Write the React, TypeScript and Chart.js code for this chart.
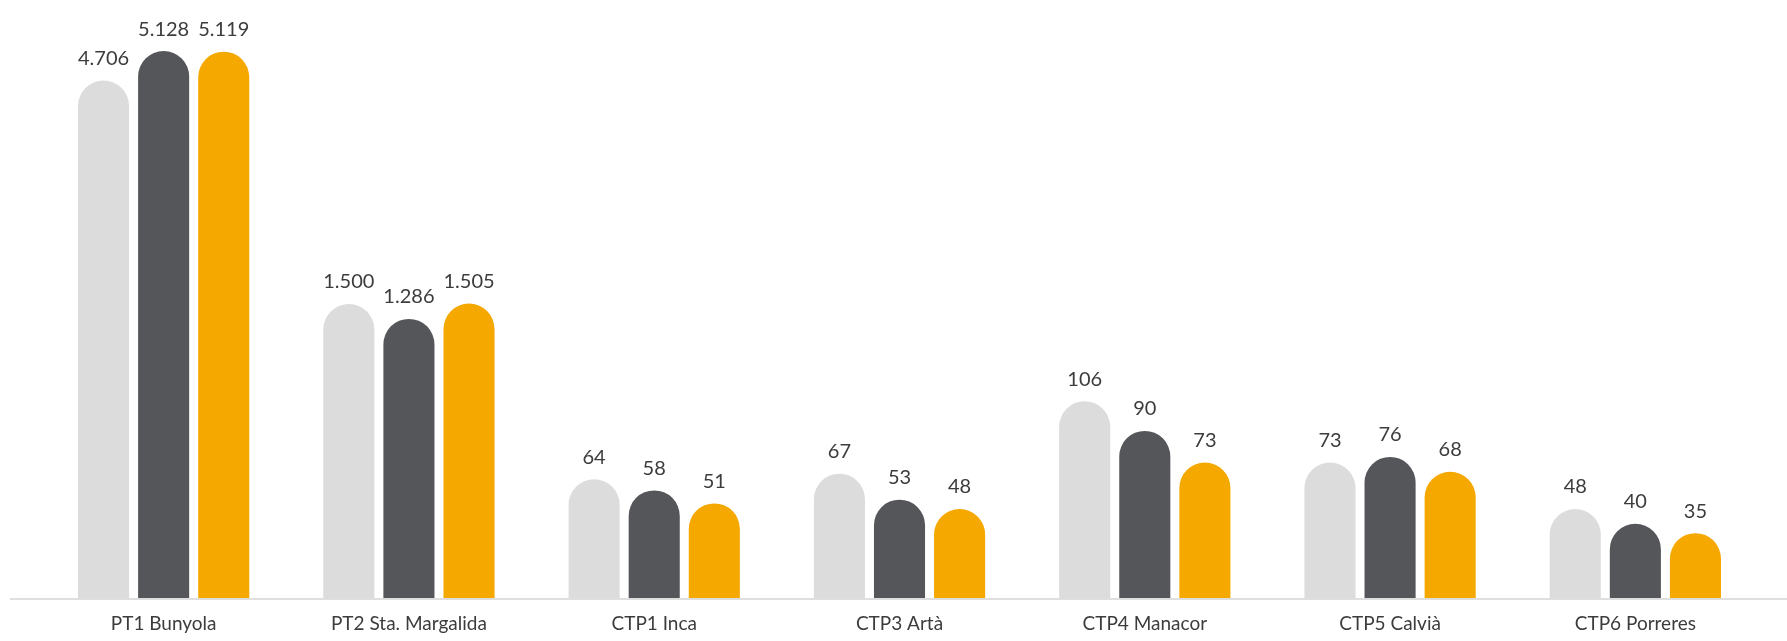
import React, { useEffect, useRef } from "react";
import { Chart, registerables, LinearScale } from "chart.js";

Chart.register(...registerables);

const categories = [
  "PT1 Bunyola",
  "PT2 Sta. Margalida",
  "CTP1 Inca",
  "CTP3 Artà",
  "CTP4 Manacor",
  "CTP5 Calvià",
  "CTP6 Porreres",
];
const seriesA = [4706, 1500, 64, 67, 106, 73, 48];
const seriesB = [5128, 1286, 58, 53, 90, 76, 40];
const seriesC = [5119, 1505, 51, 48, 73, 68, 35];
const seriesNames = ["Serie 1", "Serie 2", "Serie 3"];
const colors = ["#DCDCDC", "#55565A", "#F5A800"];

// broken value axis: linear up to BREAK, compressed above it
const BREAK = 106;
const RATIO = 0.0375;
const tf = (v: number) => (v <= BREAK ? v : BREAK + (v - BREAK) * RATIO);
const inv = (t: number) => (t <= BREAK ? t : BREAK + (t - BREAK) / RATIO);

class BrokenScale extends LinearScale {
  static id = "broken";
  static defaults = (LinearScale as any).defaults;
  getPixelForValue(value: number) {
    const a = tf((this as any).min);
    const b = tf((this as any).max);
    return this.getPixelForDecimal((tf(value) - a) / (b - a));
  }
  getValueForPixel(pixel: number) {
    const a = tf((this as any).min);
    const b = tf((this as any).max);
    return inv(a + this.getDecimalForPixel(pixel) * (b - a));
  }
}
Chart.register(BrokenScale as any);

const fmt = (v: number) => String(v).replace(/\B(?=(\d{3})+(?!\d))/g, ".");

const labelPlugin = {
  id: "valueLabels",
  afterDatasetsDraw(chart: any) {
    const ctx = chart.ctx;
    ctx.save();
    ctx.font = "20px Lato";
    ctx.fillStyle = "#3c3c3c";
    ctx.textAlign = "center";
    ctx.textBaseline = "middle";
    chart.data.datasets.forEach((ds: any, i: number) => {
      const meta = chart.getDatasetMeta(i);
      meta.data.forEach((el: any, j: number) => {
        ctx.fillText(fmt(ds.data[j]), el.x, el.y - 22);
      });
    });
    ctx.restore();
  },
};

const baselinePlugin = {
  id: "baseline",
  afterDatasetsDraw(chart: any) {
    const ctx = chart.ctx;
    const y = chart.scales.y.getPixelForValue(0);
    ctx.save();
    ctx.strokeStyle = "#d4d4d4";
    ctx.lineWidth = 1.5;
    ctx.beginPath();
    ctx.moveTo(10, y + 0.75);
    ctx.lineTo(chart.width, y + 0.75);
    ctx.stroke();
    ctx.restore();
  },
};

export default function App() {
  const ref = useRef<HTMLCanvasElement>(null);
  useEffect(() => {
    document.body.style.margin = "0";
    const series = [seriesA, seriesB, seriesC];
    const chart = new Chart(ref.current!, {
      type: "bar",
      data: {
        labels: categories,
        datasets: series.map((d, i) => ({
          label: seriesNames[i],
          data: d,
          backgroundColor: colors[i],
          borderRadius: 100,
          borderSkipped: "start",
          barPercentage: 0.85,
          categoryPercentage: 0.735,
        })),
      },
      options: {
        animation: false,
        responsive: false,
        layout: { padding: { left: 41, right: 29, top: 30, bottom: -8 } },
        plugins: { legend: { display: false }, tooltip: { enabled: false } },
        scales: {
          x: {
            grid: { display: false, drawTicks: false },
            border: { display: false },
            ticks: {
              font: { family: "Lato", size: 19 },
              color: "#3c3c3c",
              padding: 14,
              maxRotation: 0,
              autoSkip: false,
            },
          },
          y: {
            type: "broken" as any,
            display: false,
            min: 0,
            max: 5430,
          },
        },
      },
      plugins: [labelPlugin, baselinePlugin],
    });
    return () => chart.destroy();
  }, []);
  return <canvas ref={ref} width={1787} height={641} style={{ display: "block" }} />;
}
